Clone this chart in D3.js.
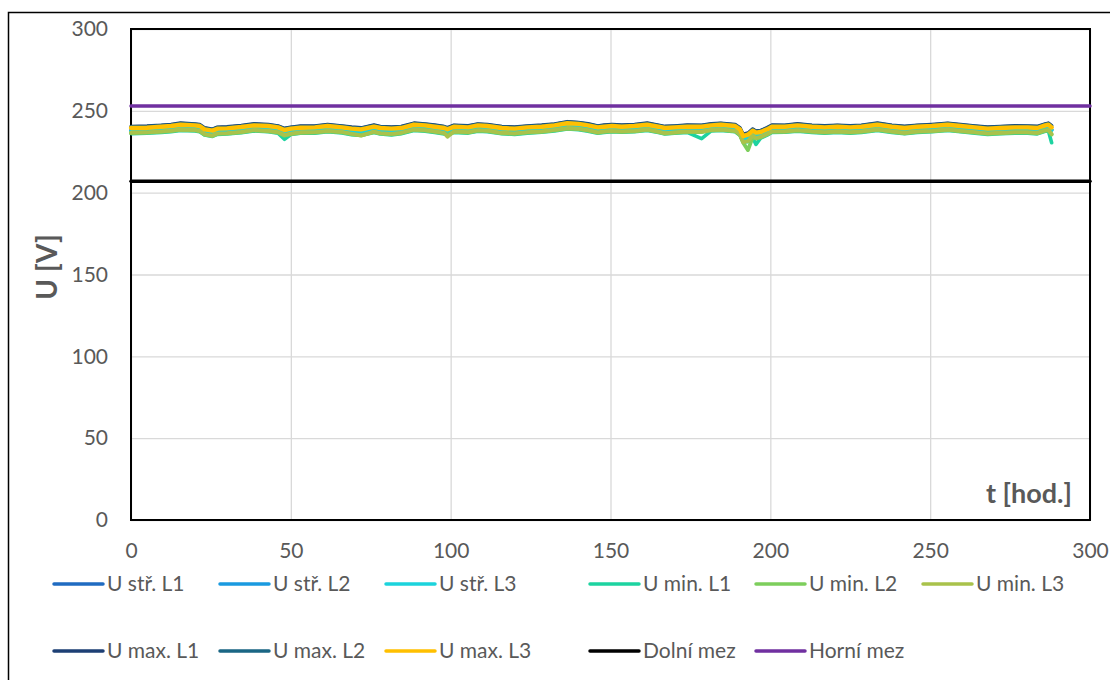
<!DOCTYPE html>
<html>
<head>
<meta charset="utf-8">
<script src="https://cdn.jsdelivr.net/npm/d3@7"></script>
<style>
body { margin: 0; background: #ffffff; }
text { font-family: Lato, "Open Sans", sans-serif; fill: #595959; }
</style>
</head>
<body>
<div id="chart"></div>
<script>
// time axis of the measurement (hours)
var hours = [0, 5, 9.5, 12.5, 15.5, 20, 21.5, 23, 25.5, 27,
	30, 34.5, 38.5, 43, 46, 48, 50, 53, 57.5, 61.5,
	66, 69, 72, 76, 78, 81.5, 84.5, 88.5, 92, 95,
	98, 99, 101, 105.5, 108.5, 111.5, 116, 120, 124, 128.5,
	132.5, 136.5, 140, 143, 146, 148, 150.5, 153.5, 157.5, 161.5,
	165, 167, 170, 174, 178.5, 181.5, 184.5, 189, 190.5, 191.5,
	193, 194.5, 195.5, 197, 199, 200.5, 204.5, 208.5, 213, 217,
	221, 225, 228.5, 233.5, 238, 242, 246, 250.5, 255.5, 259.5,
	264, 268, 272, 276.5, 280.5, 283.5, 286, 287, 288];

// U stř. (mean) L1..L3
var uStrL1 = [238.1, 238.3, 238.9, 239.3, 240.1, 239.7, 239.3, 237.3, 236.5, 237.7,
	237.9, 238.7, 239.7, 239.3, 238.5, 236.9, 237.7, 238.3, 238.5, 239.3,
	238.5, 237.7, 237.3, 238.9, 238.1, 237.7, 238.1, 240.1, 239.7, 238.9,
	238.1, 237.3, 238.9, 238.5, 239.7, 239.3, 238.1, 237.7, 238.5, 238.9,
	239.7, 241.0, 240.6, 239.7, 238.5, 238.9, 239.3, 238.9, 239.3, 240.1,
	238.9, 238.1, 238.5, 238.9, 238.9, 239.7, 240.1, 239.3, 237.3, 233.2,
	234.0, 236.5, 235.3, 235.7, 237.3, 238.9, 238.9, 239.7, 238.9, 238.5,
	238.9, 238.5, 238.9, 240.1, 238.9, 238.1, 238.9, 239.3, 240.1, 239.3,
	238.5, 237.7, 238.1, 238.5, 238.5, 238.1, 239.7, 240.1, 238.5];
var uStrL2 = [237.9, 238.1, 238.7, 239.1, 239.9, 239.5, 239.1, 237.1, 236.3, 237.5,
	237.7, 238.5, 239.5, 239.1, 238.3, 236.7, 237.5, 238.1, 238.3, 239.1,
	238.3, 237.5, 237.1, 238.7, 237.9, 237.5, 237.9, 239.9, 239.5, 238.7,
	237.9, 237.1, 238.7, 238.3, 239.5, 239.1, 237.9, 237.5, 238.3, 238.7,
	239.5, 240.8, 240.4, 239.5, 238.3, 238.7, 239.1, 238.7, 239.1, 239.9,
	238.7, 237.9, 238.3, 238.7, 238.7, 239.5, 239.9, 239.1, 237.1, 233.0,
	233.8, 236.3, 235.1, 235.5, 237.1, 238.7, 238.7, 239.5, 238.7, 238.3,
	238.7, 238.3, 238.7, 239.9, 238.7, 237.9, 238.7, 239.1, 239.9, 239.1,
	238.3, 237.5, 237.9, 238.3, 238.3, 237.9, 239.5, 239.9, 238.3];
var uStrL3 = [237.7, 237.9, 238.5, 238.9, 239.7, 239.3, 238.9, 236.9, 236.1, 237.3,
	237.5, 238.3, 239.3, 238.9, 238.1, 236.5, 237.3, 237.9, 238.1, 238.9,
	238.1, 237.3, 236.9, 238.5, 237.7, 237.3, 237.7, 239.7, 239.3, 238.5,
	237.7, 236.9, 238.5, 238.1, 239.3, 238.9, 237.7, 237.3, 238.1, 238.5,
	239.3, 240.6, 240.2, 239.3, 238.1, 238.5, 238.9, 238.5, 238.9, 239.7,
	238.5, 237.7, 238.1, 238.5, 238.5, 239.3, 239.7, 238.9, 236.9, 232.8,
	233.6, 236.1, 234.9, 235.3, 236.9, 238.5, 238.5, 239.3, 238.5, 238.1,
	238.5, 238.1, 238.5, 239.7, 238.5, 237.7, 238.5, 238.9, 239.7, 238.9,
	238.1, 237.3, 237.7, 238.1, 238.1, 237.7, 239.3, 239.7, 238.1];

// U min. L1..L3
var uMinL1 = [236.1, 236.3, 236.8, 237.3, 238.0, 237.7, 237.2, 235.2, 234.4, 235.6,
	235.8, 236.6, 237.7, 237.2, 236.4, 232.6, 235.5, 236.3, 236.4, 237.2,
	236.5, 235.4, 235.0, 236.7, 235.8, 235.3, 236.0, 238.0, 237.6, 236.8,
	235.9, 235.0, 236.8, 236.4, 237.6, 237.3, 236.0, 235.6, 236.4, 236.9,
	237.7, 238.9, 238.5, 237.6, 236.3, 236.8, 237.2, 236.9, 237.2, 238.0,
	236.7, 235.8, 236.3, 236.8, 233.0, 237.7, 238.0, 237.2, 235.0, 231.0,
	231.2, 233.6, 229.5, 233.4, 235.2, 236.8, 236.9, 237.6, 236.8, 236.4,
	236.8, 236.4, 236.8, 238.0, 236.8, 236.0, 236.8, 237.2, 238.0, 237.2,
	236.4, 235.6, 236.0, 236.4, 236.4, 235.9, 237.5, 237.7, 230.5];
var uMinL2 = [236.4, 236.7, 237.1, 237.6, 238.3, 238.0, 237.5, 235.5, 234.6, 235.9,
	236.1, 236.9, 238.0, 237.5, 236.7, 234.8, 235.8, 236.6, 236.7, 237.5,
	236.8, 235.7, 235.2, 237.0, 236.1, 235.6, 236.3, 238.3, 237.9, 237.1,
	236.2, 235.3, 237.1, 236.7, 237.9, 237.6, 236.3, 235.9, 236.7, 237.2,
	238.0, 239.2, 238.8, 237.9, 236.6, 237.1, 237.5, 237.2, 237.5, 238.3,
	237.0, 236.1, 236.6, 237.1, 237.0, 238.0, 238.3, 237.5, 235.3, 230.5,
	226.0, 234.0, 233.0, 233.8, 235.5, 237.1, 237.2, 237.9, 237.1, 236.7,
	237.1, 236.7, 237.1, 238.3, 237.1, 236.3, 237.1, 237.5, 238.3, 237.5,
	236.7, 235.9, 236.3, 236.7, 236.7, 236.2, 237.8, 238.0, 235.5];
var uMinL3 = [236.7, 236.9, 237.4, 237.9, 238.6, 238.3, 237.8, 235.8, 234.9, 236.2,
	236.4, 237.2, 238.3, 237.8, 237.0, 235.2, 236.1, 236.9, 237.0, 237.8,
	237.1, 236.0, 234.8, 237.3, 236.4, 235.9, 236.6, 238.6, 238.2, 237.4,
	236.5, 234.2, 237.4, 237.0, 238.2, 237.9, 236.6, 236.2, 237.0, 237.5,
	238.3, 239.5, 239.1, 238.2, 236.9, 237.4, 237.8, 237.5, 237.8, 238.6,
	237.3, 236.4, 236.9, 237.4, 237.3, 238.3, 238.6, 237.8, 235.6, 230.9,
	231.5, 234.8, 233.4, 234.1, 235.8, 237.4, 237.5, 238.2, 237.4, 237.0,
	237.4, 237.0, 237.4, 238.6, 237.4, 236.6, 237.4, 237.8, 238.6, 237.8,
	237.0, 236.2, 236.6, 237.0, 237.0, 236.5, 238.1, 238.4, 235.9];

// U max. L1..L3
var uMaxL1 = [240.5, 240.8, 241.3, 241.8, 242.6, 242.1, 241.7, 239.8, 238.9, 240.1,
	240.4, 241.1, 242.2, 241.7, 240.9, 239.4, 240.1, 240.8, 240.9, 241.8,
	240.9, 240.2, 239.7, 241.4, 240.5, 240.2, 240.5, 242.6, 242.1, 241.4,
	240.5, 239.8, 241.3, 241.0, 242.1, 241.8, 240.5, 240.2, 240.9, 241.4,
	242.1, 243.5, 243.0, 242.2, 240.9, 241.4, 241.7, 241.4, 241.7, 242.6,
	241.3, 240.6, 240.9, 241.4, 241.3, 242.2, 242.5, 241.8, 239.8, 235.8,
	236.5, 239.0, 237.8, 238.1, 239.8, 241.4, 241.3, 242.2, 241.3, 241.0,
	241.3, 241.0, 241.3, 242.6, 241.3, 240.6, 241.3, 241.8, 242.5, 241.8,
	240.9, 240.2, 240.5, 241.0, 240.9, 240.6, 242.1, 242.6, 241.0];
var uMaxL2 = [240.3, 240.5, 241.1, 241.5, 242.3, 241.9, 241.5, 239.5, 238.7, 239.9,
	240.1, 240.9, 241.9, 241.5, 240.7, 239.1, 239.9, 240.5, 240.7, 241.5,
	240.7, 239.9, 239.5, 241.1, 240.3, 239.9, 240.3, 242.3, 241.9, 241.1,
	240.3, 239.5, 241.1, 240.7, 241.9, 241.5, 240.3, 239.9, 240.7, 241.1,
	241.9, 243.2, 242.8, 241.9, 240.7, 241.1, 241.5, 241.1, 241.5, 242.3,
	241.1, 240.3, 240.7, 241.1, 241.1, 241.9, 242.3, 241.5, 239.5, 235.4,
	236.2, 238.7, 237.5, 237.9, 239.5, 241.1, 241.1, 241.9, 241.1, 240.7,
	241.1, 240.7, 241.1, 242.3, 241.1, 240.3, 241.1, 241.5, 242.3, 241.5,
	240.7, 239.9, 240.3, 240.7, 240.7, 240.3, 241.9, 242.3, 240.7];
var uMaxL3 = [239.5, 239.7, 240.3, 240.7, 241.5, 241.1, 240.7, 238.7, 237.9, 239.1,
	239.3, 240.1, 241.1, 240.7, 239.9, 238.3, 239.1, 239.7, 239.9, 240.7,
	239.9, 239.1, 238.7, 240.3, 239.5, 239.1, 239.5, 241.5, 241.1, 240.3,
	239.5, 238.7, 240.3, 239.9, 241.1, 240.7, 239.5, 239.1, 239.9, 240.3,
	241.1, 242.4, 242.0, 241.1, 239.9, 240.3, 240.7, 240.3, 240.7, 241.5,
	240.3, 239.5, 239.9, 240.3, 240.3, 241.1, 241.5, 240.7, 238.7, 234.6,
	235.4, 237.9, 236.7, 237.1, 238.7, 240.3, 240.3, 241.1, 240.3, 239.9,
	240.3, 239.9, 240.3, 241.5, 240.3, 239.5, 240.3, 240.7, 241.5, 240.7,
	239.9, 239.1, 239.5, 239.9, 239.9, 239.5, 241.1, 241.5, 239.9];

// voltage limits
var limitHours = [0, 300];
var dolniMez = [207, 207];
var horniMez = [253, 253];

var xTicks = [0, 50, 100, 150, 200, 250, 300];
var yTicks = [0, 50, 100, 150, 200, 250, 300];

var seriesNames = ["U stř. L1", "U stř. L2", "U stř. L3", "U min. L1", "U min. L2", "U min. L3",
	"U max. L1", "U max. L2", "U max. L3", "Dolní mez", "Horní mez"];
var lineColor = ["#1f6bc1", "#1a9ae0", "#1cd3dc", "#1dd3a0", "#7dce5c", "#a9c24b",
	"#1d3f74", "#1a6684", "#ffc000", "#000000", "#7030a0"];
// line widths in the plot (the yellow max L3 sits on top and covers most of the band)
var lineWidth = [3.6, 3.6, 3.6, 3.6, 3.8, 3.8, 3.2, 3.2, 4.4, 3.5, 3.5];

var series = [
	{ x: hours, y: uStrL1 }, { x: hours, y: uStrL2 }, { x: hours, y: uStrL3 },
	{ x: hours, y: uMinL1 }, { x: hours, y: uMinL2 }, { x: hours, y: uMinL3 },
	{ x: hours, y: uMaxL1 }, { x: hours, y: uMaxL2 }, { x: hours, y: uMaxL3 },
	{ x: limitHours, y: dolniMez }, { x: limitHours, y: horniMez }
];

var w = 1110;
var h = 680;
// plot area
var plotLeft = 131, plotRight = 1090, plotTop = 29, plotBottom = 520;

var svg = d3.select("#chart")
	.append("svg")
	.attr("width", w)
	.attr("height", h);

// chart frame (runs out of the picture on the right and bottom)
svg.append("rect")
	.attr("x", 8.5)
	.attr("y", 12.5)
	.attr("width", w)
	.attr("height", h)
	.attr("fill", "none")
	.attr("stroke", "#000")
	.attr("stroke-width", 1.5);

var xScale = d3.scaleLinear().domain([0, 300]).range([plotLeft, plotRight]);
var yScale = d3.scaleLinear().domain([0, 300]).range([plotBottom, plotTop]);

// grid lines
var xGrid = svg.append("g")
	.attr("transform", "translate(0," + plotBottom + ")")
	.call(d3.axisBottom(xScale).tickValues(xTicks).tickSize(-(plotBottom - plotTop)).tickFormat(""));
var yGrid = svg.append("g")
	.attr("transform", "translate(" + plotLeft + ",0)")
	.call(d3.axisLeft(yScale).tickValues(yTicks).tickSize(-(plotRight - plotLeft)).tickFormat(""));
[xGrid, yGrid].forEach(function(g) {
	g.select(".domain").remove();
	g.selectAll("line").attr("stroke", "#d9d9d9").attr("stroke-width", 1.3);
});

// plot area border
svg.append("rect")
	.attr("x", plotLeft)
	.attr("y", plotTop)
	.attr("width", plotRight - plotLeft)
	.attr("height", plotBottom - plotTop)
	.attr("fill", "none")
	.attr("stroke", "#000")
	.attr("stroke-width", 2);

// tick labels
var xAxis = svg.append("g")
	.attr("transform", "translate(0," + plotBottom + ")")
	.call(d3.axisBottom(xScale).tickValues(xTicks).tickSize(0).tickPadding(23));
var yAxis = svg.append("g")
	.attr("transform", "translate(" + plotLeft + ",0)")
	.call(d3.axisLeft(yScale).tickValues(yTicks).tickSize(0).tickPadding(23));
[xAxis, yAxis].forEach(function(g) {
	g.select(".domain").remove();
	g.selectAll("text")
		.attr("fill", "#595959")
		.style("font-family", "Lato, 'Open Sans', sans-serif")
		.style("font-size", "21px");
});

// lines
var line = d3.line()
	.x(function(d) { return xScale(d[0]); })
	.y(function(d) { return yScale(d[1]); });

series.forEach(function(s, i) {
	var pts = d3.zip(s.x, s.y);
	svg.append("path")
		.attr("d", line(pts))
		.attr("fill", "none")
		.attr("stroke", lineColor[i])
		.attr("stroke-width", lineWidth[i])
		.attr("stroke-linejoin", "round")
		.attr("stroke-linecap", "round");
});

// axis titles
svg.append("text")
	.attr("x", 1072)
	.attr("y", 503)
	.attr("text-anchor", "end")
	.style("font-size", "27px")
	.style("font-weight", "bold")
	.text("t [hod.]");

svg.append("text")
	.attr("transform", "translate(46,267) rotate(-90)")
	.attr("text-anchor", "middle")
	.attr("dominant-baseline", "central")
	.style("font-size", "28px")
	.style("font-weight", "bold")
	.text("U [V]");

// legend, two rows
var legendX = [53, 219, 385, 589, 755, 922];
var legendY = [584, 651];
var legend = svg.append("g");
seriesNames.forEach(function(name, i) {
	var row = i < 6 ? 0 : 1;
	var col = i < 6 ? i : i - 6;
	var g = legend.append("g")
		.attr("transform", "translate(" + legendX[col] + "," + legendY[row] + ")");
	g.append("line")
		.attr("x1", 1)
		.attr("x2", 50)
		.attr("stroke", lineColor[i])
		.attr("stroke-width", 3.5)
		.attr("stroke-linecap", "round");
	g.append("text")
		.attr("x", 54)
		.attr("dy", "0.35em")
		.style("font-size", "21px")
		.text(name);
});
</script>
</body>
</html>
